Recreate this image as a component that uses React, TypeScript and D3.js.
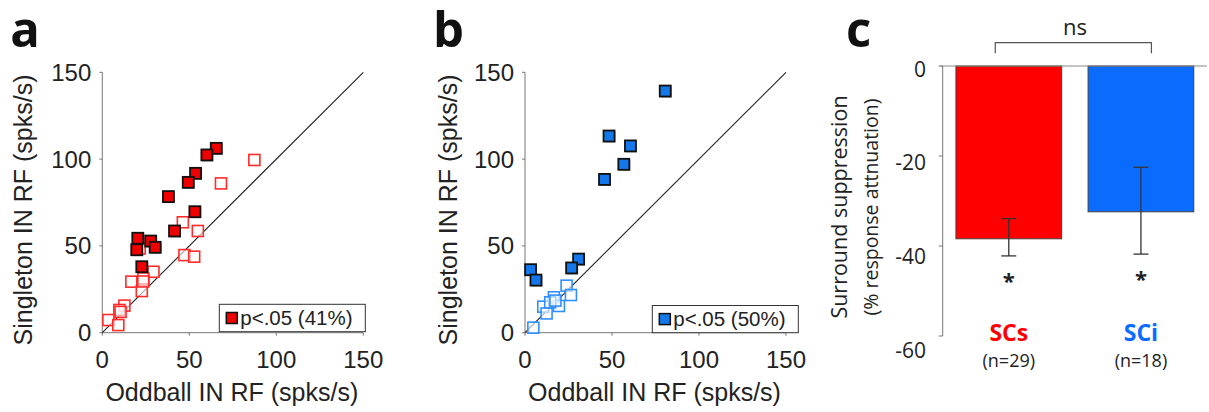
import React from 'react'
import * as d3 from 'd3'

// panel a (SCs): significant units are filled, the rest open
const scsSigOddball = [65.5, 60.1, 53.6, 49.4, 38.0, 53.2, 41.5, 20.4, 27.8, 30.4, 19.8, 22.7]
const scsSigSingleton = [106.2, 102.4, 91.8, 86.6, 78.4, 69.7, 58.6, 54.4, 52.8, 49.2, 47.8, 38.0]
const scsNsOddball = [87.4, 68.2, 46.3, 54.9, 47.2, 52.8, 29.4, 23.6, 16.7, 22.7, 12.7, 9.8, 3.5, 9.2, 21.5, 23.5, 10.5]
const scsNsSingleton = [99.5, 86.0, 63.6, 58.6, 44.7, 43.8, 35.1, 31.3, 29.4, 24.0, 15.6, 13.1, 7.3, 4.4, 48.5, 29.5, 12.0]

// panel b (SCi)
const sciSigOddball = [80.6, 48.3, 60.6, 56.8, 45.7, 30.8, 26.8, 3.2, 6.3]
const sciSigSingleton = [139.2, 113.3, 107.6, 97.0, 88.3, 42.4, 37.3, 36.3, 30.3]
const sciNsOddball = [23.9, 26.4, 16.6, 19.5, 10.5, 12.4, 4.8, 14.5, 17.5]
const sciNsSingleton = [27.1, 21.7, 20.4, 15.4, 15.0, 11.1, 2.9, 17.5, 18.5]

const scatterTicks = [0, 50, 100, 150]

// panel c
const groups = ['SCs', 'SCi']
const groupN = [29, 18]
const suppression = [-38.4, -32.4]
const errLower = [-42.2, -41.8]
const errUpper = [-33.9, -22.5]
const barTicks = [0, -20, -40, -60]

const RED = '#ff0000'
const BLUE = '#0a6cff'
const ARIAL = '"Liberation Sans", Arial, sans-serif'
const MYRIAD = '"Open Sans", sans-serif'

type ScatterProps = {
  left: number
  letter: string
  titleX: number
  sigX: number[]
  sigY: number[]
  nsX: number[]
  nsY: number[]
  sigFill: string
  nsStroke: string
  legend: string
  legendBox: [number, number, number, number]
}

function Scatter(p: ScatterProps) {
  const x = d3.scaleLinear().domain([0, 150]).range([p.left, p.left + 261])
  const y = d3.scaleLinear().domain([0, 150]).range([332.7, 72.3])
  const s = 11
  const [bx, by, bw, bh] = p.legendBox
  return (
    <g>
      <text x={p.left - 92} y={47} fontFamily={MYRIAD} fontWeight={700} fontSize={49} fill="#111">{p.letter}</text>
      <line x1={x(0)} x2={x(0)} y1={y(0)} y2={y(150)} stroke="#777" strokeWidth={1} />
      <line x1={x(0)} x2={x(150)} y1={y(0)} y2={y(0)} stroke="#777" strokeWidth={1} />
      {scatterTicks.map(t => (
        <g key={'t' + t}>
          <line x1={x(0) - 3} x2={x(0)} y1={y(t)} y2={y(t)} stroke="#777" />
          <line x1={x(t)} x2={x(t)} y1={y(0)} y2={y(0) + 3} stroke="#777" />
          <text x={x(0) - 11} y={y(t) + 8.5} textAnchor="end" fontFamily={ARIAL} fontSize={24} fill="#222">{t}</text>
          <text x={x(t)} y={368} textAnchor="middle" fontFamily={ARIAL} fontSize={24} fill="#222">{t}</text>
        </g>
      ))}
      <line x1={x(0)} y1={y(0)} x2={x(150)} y2={y(150)} stroke="#222" strokeWidth={1.1} />
      {p.nsX.map((v, i) => (
        <rect key={'n' + i} x={x(v) - s / 2} y={y(p.nsY[i]) - s / 2} width={s} height={s}
          fill="white" fillOpacity={0.6} stroke={p.nsStroke} strokeWidth={1.6} />
      ))}
      {p.sigX.map((v, i) => (
        <g key={'s' + i}>
          <rect x={x(v) - s / 2 + 1} y={y(p.sigY[i]) - s / 2 + 1} width={s} height={s} fill="#555" opacity={0.5} />
          <rect x={x(v) - s / 2} y={y(p.sigY[i]) - s / 2} width={s} height={s}
            fill={p.sigFill} stroke="#111" strokeWidth={1.8} />
        </g>
      ))}
      <rect x={bx} y={by} width={bw} height={bh} fill="white" stroke="#333" strokeWidth={1} />
      <rect x={bx + 7} y={by + bh / 2 - 5.5} width={11} height={11} fill={p.sigFill} stroke="#111" strokeWidth={1.5} />
      <text x={bx + 21} y={by + bh / 2 + 7} fontFamily={ARIAL} fontSize={20.5} fill="#222">{p.legend}</text>
      <text x={(x(0) + x(150)) / 2 - 1} y={401} textAnchor="middle" fontFamily={ARIAL} fontSize={25} fill="#222">Oddball IN RF (spks/s)</text>
      <text transform={`translate(${p.titleX},210) rotate(-90)`} textAnchor="middle" fontFamily={ARIAL} fontSize={25} fill="#222">Singleton IN RF (spks/s)</text>
    </g>
  )
}

function Bars() {
  const x = d3.scaleBand<string>().domain(groups).range([942.7, 1207]).paddingInner(0.2).paddingOuter(0.1)
  const y = d3.scaleLinear().domain([0, -60]).range([66, 336])
  // the tick labels sit a little off their ticks in the original
  const labelY = d3.scaleLinear().domain([0, -60]).range([69, 350])
  const colors = [RED, BLUE]
  const cx = (g: string) => (x(g) as number) + x.bandwidth() / 2
  return (
    <g>
      <text x={846} y={47} fontFamily={MYRIAD} fontWeight={700} fontSize={49} fill="#111">c</text>
      <line x1={942.7} x2={942.7} y1={y(0)} y2={y(-60)} stroke="#777" />
      {barTicks.map(t => (
        <g key={t}>
          <line x1={938.7} x2={942.7} y1={y(t)} y2={y(t)} stroke="#777" />
          <text x={926} y={labelY(t) + 7.5} textAnchor="end" fontFamily={MYRIAD} fontSize={21} fill="#222">{t}</text>
        </g>
      ))}
      {groups.map((g, i) => (
        <g key={g}>
          <rect x={x(g)} y={y(0)} width={x.bandwidth()} height={y(suppression[i]) - y(0)}
            fill={colors[i]} stroke="#444" strokeWidth={1} />
          <line x1={cx(g)} x2={cx(g)} y1={y(errUpper[i])} y2={y(errLower[i])} stroke="#333" strokeWidth={1.3} />
          <line x1={cx(g) - 7.5} x2={cx(g) + 7.5} y1={y(errUpper[i])} y2={y(errUpper[i])} stroke="#333" strokeWidth={1.3} />
          <line x1={cx(g) - 7.5} x2={cx(g) + 7.5} y1={y(errLower[i])} y2={y(errLower[i])} stroke="#333" strokeWidth={1.3} />
          <text x={cx(g)} y={y(errLower[i]) + 33} textAnchor="middle" fontFamily={MYRIAD} fontWeight={700} fontSize={22} fill="#222">*</text>
          <text x={cx(g)} y={341} textAnchor="middle" fontFamily={MYRIAD} fontWeight={700} fontSize={23} fill={colors[i]}>{g}</text>
          <text x={cx(g)} y={367} textAnchor="middle" fontFamily={MYRIAD} fontSize={18} fill="#222">(n={groupN[i]})</text>
        </g>
      ))}
      <line x1={940} x2={1207} y1={y(0)} y2={y(0)} stroke="#888" strokeWidth={1} />
      <path d={`M${cx('SCs') - 13.5},53.3V42.7H${cx('SCi') + 10.5}V53.3`} fill="none" stroke="#555" strokeWidth={1.2} />
      <text x={1075} y={35} textAnchor="middle" fontFamily={MYRIAD} fontSize={22} fill="#222">ns</text>
      <text transform="translate(847,207) rotate(-90)" textAnchor="middle" fontFamily={MYRIAD} fontSize={21.5} fill="#222">Surround suppression</text>
      <text transform="translate(878,207) rotate(-90)" textAnchor="middle" fontFamily={MYRIAD} fontSize={19.5} fill="#222">(% response attnuation)</text>
    </g>
  )
}

export default function App() {
  return (
    <svg width={1209} height={412} style={{ position: 'absolute', left: 0, top: 0, background: 'white' }}>
      <Scatter left={102.3} letter="a" titleX={31.5} sigX={scsSigOddball} sigY={scsSigSingleton} nsX={scsNsOddball} nsY={scsNsSingleton}
        sigFill="#ee0000" nsStroke="#ff2a2a" legend="p<.05 (41%)" legendBox={[219.3, 304.3, 146, 27.4]} />
      <Scatter left={525} letter="b" titleX={456.5} sigX={sciSigOddball} sigY={sciSigSingleton} nsX={sciNsOddball} nsY={sciNsSingleton}
        sigFill="#1478ea" nsStroke="#2f8fff" legend="p<.05 (50%)" legendBox={[652.3, 305.5, 146, 27.2]} />
      <Bars />
    </svg>
  )
}
